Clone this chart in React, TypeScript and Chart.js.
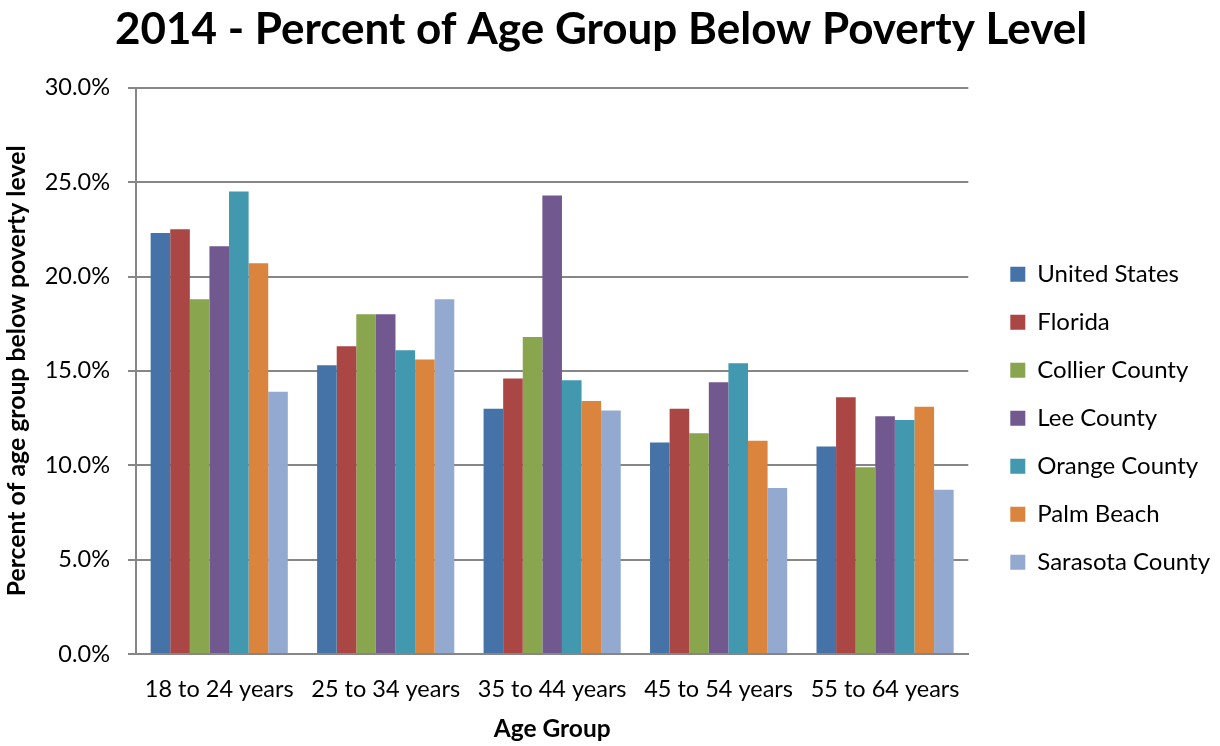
import React, { useEffect, useRef } from "react";
import { Chart, registerables } from "chart.js";

Chart.register(...registerables);

const categories = ["18 to 24 years", "25 to 34 years", "35 to 44 years", "45 to 54 years", "55 to 64 years"];
const seriesNames = ["United States", "Florida", "Collier County", "Lee County", "Orange County", "Palm Beach", "Sarasota County"];
const unitedStates = [22.3, 15.3, 13.0, 11.2, 11.0];
const florida = [22.5, 16.3, 14.6, 13.0, 13.6];
const collier = [18.8, 18.0, 16.8, 11.7, 9.9];
const lee = [21.6, 18.0, 24.3, 14.4, 12.6];
const orange = [24.5, 16.1, 14.5, 15.4, 12.4];
const palmBeach = [20.7, 15.6, 13.4, 11.3, 13.1];
const sarasota = [13.9, 18.8, 12.9, 8.8, 8.7];
const colors = ["#4572A7", "#AA4643", "#89A54E", "#71588F", "#4198AF", "#DB843D", "#93A9CF"];

const FONT = "Lato, 'Open Sans', sans-serif";

const legendShift = {
  id: "legendShift",
  afterLayout(chart: any) {
    if (chart.legend) {
      chart.legend.left += 18;
      chart.legend.right += 18;
    }
  },
};

export default function App() {
  const ref = useRef<HTMLCanvasElement | null>(null);
  useEffect(() => {
    document.body.style.margin = "0";
    const values = [unitedStates, florida, collier, lee, orange, palmBeach, sarasota];
    const chart = new Chart(ref.current!, {
      type: "bar",
      data: {
        labels: categories,
        datasets: seriesNames.map((name, i) => ({
          label: name,
          data: values[i],
          backgroundColor: colors[i],
          borderWidth: 0,
          categoryPercentage: 0.824,
          barPercentage: 1.0,
        })),
      },
      plugins: [legendShift],
      options: {
        responsive: false,
        animation: false,
        devicePixelRatio: 1,
        layout: { padding: { left: 0, right: 18, top: 0, bottom: 0 } },
        plugins: {
          title: {
            display: true,
            text: "2014 - Percent of Age Group Below Poverty Level",
            color: "#000",
            font: { family: FONT, size: 44, weight: "bold" },
            padding: { top: 3, bottom: 32 },
          },
          legend: {
            position: "right",
            title: { display: true, text: " ", font: { size: 12 }, padding: { top: 38, bottom: 38 } },
            labels: {
              color: "#000",
              font: { family: FONT, size: 24 },
              boxWidth: 15,
              boxHeight: 15,
              padding: 24,
            },
          },
          tooltip: { enabled: false },
        },
        scales: {
          x: {
            grid: { display: false, drawTicks: false },
            border: { color: "#868686", width: 2 },
            ticks: { color: "#000", font: { family: FONT, size: 23.5 }, padding: 21 },
            title: { display: true, text: "Age Group", color: "#000", font: { family: FONT, size: 24.5, weight: "bold" }, padding: { top: 10, bottom: 2 } },
            afterFit: (s: any) => { s.height = 92; },
          },
          y: {
            min: 0,
            max: 30,
            ticks: {
              stepSize: 5,
              color: "#000",
              font: { family: FONT, size: 23.5 },
              padding: 18,
              callback: (v: any) => Number(v).toFixed(1) + "%",
            },
            grid: { color: "#868686", lineWidth: 2, tickLength: 8 },
            border: { color: "#868686", width: 2 },
            title: { display: true, text: "Percent of age group below poverty level", color: "#000", font: { family: FONT, size: 24.8, weight: "bold" }, padding: { top: 2, bottom: 4 } },
            afterFit: (s: any) => { s.width = 136; },
          },
        },
      },
    });
    return () => chart.destroy();
  }, []);
  return <canvas ref={ref} width={1220} height={746} style={{ display: "block" }} />;
}
